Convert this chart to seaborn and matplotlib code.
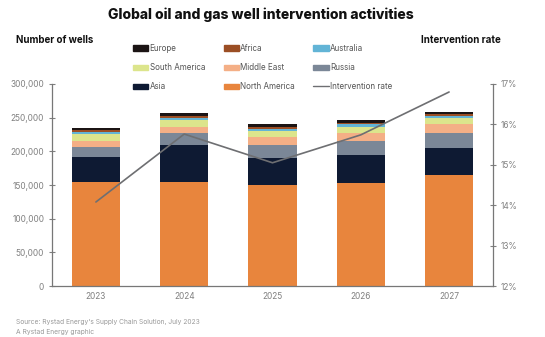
import numpy as np
import pandas as pd
import matplotlib.pyplot as plt
import seaborn as sns

# values
years = ['2023', '2024', '2025', '2026', '2027']
north_america = [155000, 155000, 150000, 153500, 165000]
asia = [37000, 54000, 40000, 40500, 40000]
russia = [14000, 17500, 19500, 22000, 22000]
middle_east = [10000, 10000, 12000, 11000, 13000]
south_america = [10000, 10000, 9000, 9000, 9000]
australia = [3000, 3500, 3000, 4000, 3500]
africa = [3000, 2500, 3000, 2000, 2500]
europe = [3000, 4000, 4500, 4000, 3500]
intervention_rate = [14.08, 15.76, 15.05, 15.74, 16.8]

# stacking order bottom -> top
layers = [
    ('North America', north_america, '#E8853D'),
    ('Asia', asia, '#0E1A33'),
    ('Russia', russia, '#7B8797'),
    ('Middle East', middle_east, '#F4AF86'),
    ('South America', south_america, '#DCE58C'),
    ('Australia', australia, '#62B4D6'),
    ('Africa', africa, '#9B4E24'),
    ('Europe', europe, '#1B1414'),
]

sns.set_style('white')
plt.rcParams['font.family'] = ['Inter', 'DejaVu Sans']

fig = plt.figure(figsize=(5.45, 3.37), dpi=100)
ax = fig.add_axes([0.095, 0.151, 0.81, 0.6])

bottom = np.zeros(len(years))
handles = {}
for name, vals, col in layers:
    df = pd.DataFrame({'year': years, 'wells': vals})
    sns.barplot(data=df, x='year', y='wells', color=col, width=0.55,
                bottom=bottom, ax=ax, saturation=1, linewidth=0)
    handles[name] = plt.Rectangle((0, 0), 1, 1, color=col)
    bottom = bottom + np.array(vals)

ax.set_xlim(-0.5, 4.5)
ax.set_ylim(0, 300000)
ax.set_yticks(np.arange(0, 300001, 50000))
ax.set_yticklabels([f'{v:,}' for v in range(0, 300001, 50000)])
ax.set_xlabel('')
ax.set_ylabel('')
ax.set_xticks(np.arange(0.5, 4.5, 1), minor=True)

ax2 = ax.twinx()
sns.lineplot(x=np.arange(len(years)), y=intervention_rate, ax=ax2,
             color='#6E6F72', linewidth=1.2)
ax2.set_ylim(12, 17)
ax2.set_yticks(range(12, 18))
ax2.set_yticklabels([f'{v}%' for v in range(12, 18)])
ax2.set_xlim(-0.5, 4.5)

for a in (ax, ax2):
    for s in a.spines.values():
        s.set_visible(False)
    a.tick_params(colors='#808080', labelsize=6, length=3, width=0.8)
    a.tick_params(which='minor', length=3, width=0.8, color='#808080')
ax.spines['left'].set_visible(True)
ax.spines['bottom'].set_visible(True)
ax2.spines['right'].set_visible(True)
for s in (ax.spines['left'], ax.spines['bottom'], ax2.spines['right']):
    s.set_color('#777777')
    s.set_linewidth(0.9)
ax.tick_params(axis='x', length=0, pad=4)
ax.tick_params(axis='x', which='minor', direction='inout', length=4)
ax.tick_params(axis='y', direction='inout', length=4)
ax2.tick_params(axis='y', direction='inout', length=4)

line_handle = plt.Line2D([0], [0], color='#6E6F72', linewidth=1)
order = ['Europe', 'South America', 'Asia',
         'Africa', 'Middle East', 'North America',
         'Australia', 'Russia']
hs = [handles[n] for n in order] + [line_handle]
ls = order + ['Intervention rate']
fig.legend(hs, ls, ncol=3, loc='center', bbox_to_anchor=(0.482, 0.8),
           frameon=False, fontsize=5.8, labelcolor='#555555',
           handlelength=1.9, handleheight=0.6, handletextpad=0.15,
           columnspacing=2.3, labelspacing=1.25)

fig.text(0.479, 0.957, 'Global oil and gas well intervention activities',
         ha='center', va='center', fontsize=10, fontweight='heavy', color='#111111')
fig.text(0.03, 0.882, 'Number of wells', ha='left', va='center',
         fontsize=7, fontweight='bold', color='#111111')
fig.text(0.918, 0.882, 'Intervention rate', ha='right', va='center',
         fontsize=7, fontweight='bold', color='#111111')
fig.text(0.03, 0.045, "Source: Rystad Energy's Supply Chain Solution, July 2023",
         ha='left', va='center', fontsize=4.8, color='#999999')
fig.text(0.03, 0.015, 'A Rystad Energy graphic',
         ha='left', va='center', fontsize=4.8, color='#999999')

fig.savefig('out.png', dpi=100)
